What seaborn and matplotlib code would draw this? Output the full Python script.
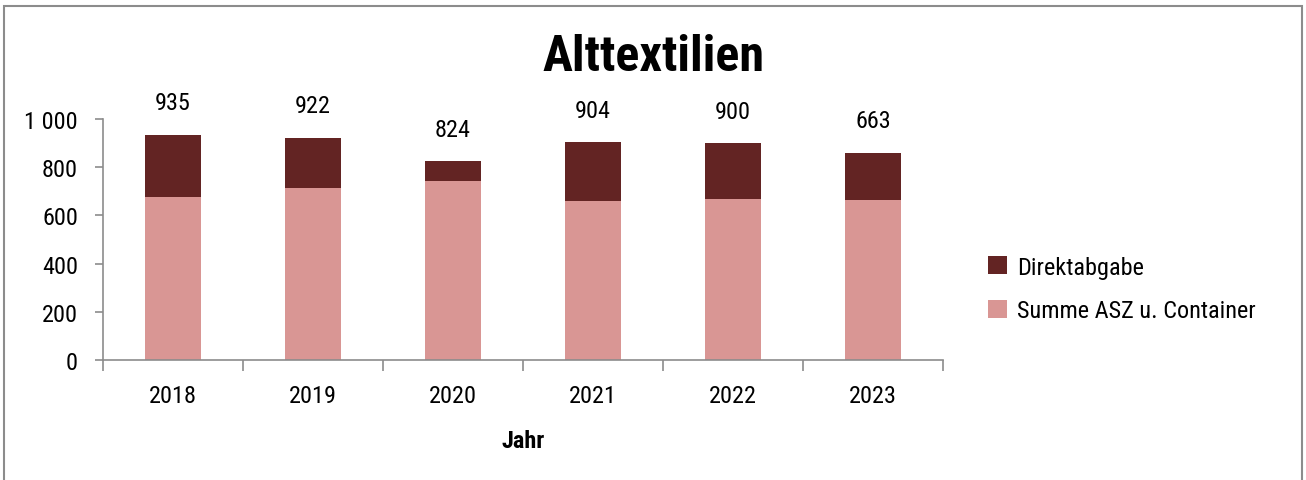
import matplotlib
matplotlib.use("Agg")
import matplotlib.pyplot as plt
import seaborn as sns
import pandas as pd
from matplotlib import font_manager
from matplotlib.patches import Patch, Rectangle

years = ["2018", "2019", "2020", "2021", "2022", "2023"]
summe_asz = [676, 712, 741, 658, 668, 663]
direktabgabe = [259, 210, 83, 246, 232, 197]
labels = ["935", "922", "824", "904", "900", "663"]
yticks = [0, 200, 400, 600, 800, 1000]

dark = "#632423"
pink = "#D99694"
axis_grey = "#8C8C8C"
fs = 17.5

sns.set_theme(style="white")
names = {f.name for f in font_manager.fontManager.ttflist}
fam = "Liberation Sans"
for cand in ["Roboto Condensed", "Liberation Sans Narrow", "DejaVu Sans Condensed",
             "Open Sans Condensed", "Noto Sans Condensed", "Arial Narrow"]:
    if cand in names:
        fam = cand
        break
plt.rcParams["font.family"] = [fam, "DejaVu Sans"]
plt.rcParams["text.color"] = "black"
plt.rcParams["axes.labelcolor"] = "black"
plt.rcParams["xtick.labelcolor"] = "black"
plt.rcParams["ytick.labelcolor"] = "black"

df = pd.DataFrame({"Jahr": years, "summe": summe_asz, "direkt": direktabgabe})
df["total"] = df["summe"] + df["direkt"]

fig = plt.figure(figsize=(13.06, 4.81), dpi=100)
ax = fig.add_axes([0.0789, 0.2495, 0.6432, 0.501])

sns.barplot(data=df, x="Jahr", y="total", color=dark, width=0.4,
            saturation=1, ax=ax, linewidth=0)
sns.barplot(data=df, x="Jahr", y="summe", color=pink, width=0.4,
            saturation=1, ax=ax, linewidth=0)

for i, (t, lab) in enumerate(zip(df["total"], labels)):
    ax.annotate(lab, (i, t), xytext=(0, 23), textcoords="offset points",
                ha="center", va="center", fontsize=fs, annotation_clip=False)

ax.set_ylim(0, 1000)
ax.set_xlim(-0.5, 5.5)
ax.set_yticks(yticks)
ax.set_yticklabels([f"{v:,}".replace(",", " ") for v in yticks], fontsize=fs)
ax.set_xticks(range(len(years)))
ax.set_xticklabels(years, fontsize=fs)
ax.set_xticks([i - 0.5 for i in range(len(years) + 1)], minor=True)
ax.tick_params(axis="x", which="major", length=0, pad=17)
ax.tick_params(axis="x", which="minor", length=8, color=axis_grey, width=1.2,
               bottom=True, direction="out")
ax.tick_params(axis="y", length=6, color=axis_grey, width=1.2, left=True,
               direction="out", pad=12)
ax.set_xlabel("Jahr", fontsize=fs, fontweight="bold", labelpad=16)
ax.set_ylabel("")
for s in ["top", "right"]:
    ax.spines[s].set_visible(False)
for s in ["left", "bottom"]:
    ax.spines[s].set_color(axis_grey)
    ax.spines[s].set_linewidth(1.2)

fig.text(0.5, 0.88, "Alttextilien", ha="center", va="center",
         fontsize=36, fontweight="bold")

handles = [Patch(facecolor=dark, edgecolor="none", label="Direktabgabe"),
           Patch(facecolor=pink, edgecolor="none", label="Summe ASZ u. Container")]
fig.legend(handles=handles, loc="center left", bbox_to_anchor=(0.74, 0.397),
           frameon=False, fontsize=fs, handlelength=0.75, handleheight=0.75,
           handletextpad=0.45, labelspacing=0.85)

fig.patches.append(Rectangle((0.003, -0.1), 0.994, 1.085, transform=fig.transFigure,
                             fill=False, edgecolor=axis_grey, linewidth=1.5))

fig.savefig("out.png", dpi=100)
